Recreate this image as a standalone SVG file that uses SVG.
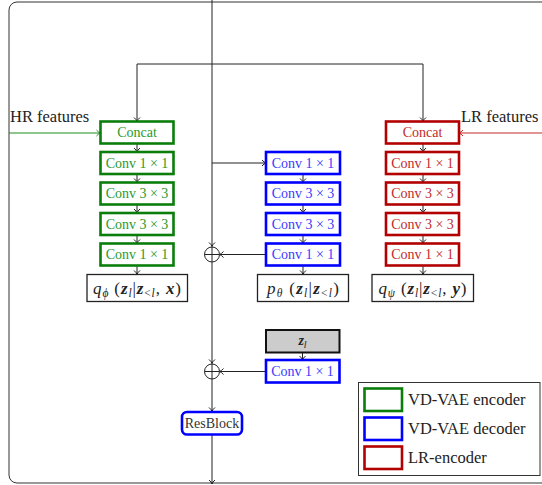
<svg xmlns="http://www.w3.org/2000/svg" width="542" height="485" viewBox="0 0 542 485" font-family="'Liberation Serif', 'DejaVu Serif', serif">
<defs>
<style>
text{font-family:"Liberation Serif","DejaVu Serif",serif;}
.lbl{font-size:14px;text-anchor:middle;dominant-baseline:central;}
.math{font-size:17px;text-anchor:middle;}
.enc rect{fill:#fff;stroke:#0a7d0a;stroke-width:2.6;}
.enc text{fill:#2a9a2a;}
.dec rect{fill:#fff;stroke:#0000ff;stroke-width:2.6;}
.dec text{fill:#3a3aff;}
.lr rect{fill:#fff;stroke:#b30000;stroke-width:2.6;}
.lr text{fill:#c22a2a;}
.dist rect{fill:#fff;stroke:#222;stroke-width:1.3;}
.dist text{fill:#222;}
.con{fill:none;stroke:#222;stroke-width:1;}
.b{font-weight:bold;font-style:italic;}
.i{font-style:italic;}
</style>
<marker id="arr" markerUnits="userSpaceOnUse" markerWidth="8" markerHeight="8" refX="6" refY="4" orient="auto">
<path d="M2,1 Q4,3.4 6,4 Q4,4.6 2,7" fill="none" stroke="#222" stroke-width="1"/>
</marker>
<marker id="arrG" markerUnits="userSpaceOnUse" markerWidth="8" markerHeight="8" refX="6" refY="4" orient="auto">
<path d="M2,1 Q4,3.4 6,4 Q4,4.6 2,7" fill="none" stroke="#1f8f1f" stroke-width="1"/>
</marker>
<marker id="arrR" markerUnits="userSpaceOnUse" markerWidth="8" markerHeight="8" refX="6" refY="4" orient="auto">
<path d="M2,1 Q4,3.4 6,4 Q4,4.6 2,7" fill="none" stroke="#c22a2a" stroke-width="1"/>
</marker>
</defs>
<rect width="542" height="485" fill="#fff"/>
<rect x="9" y="2" width="548" height="481" rx="8" fill="none" stroke="#333" stroke-width="1"/>

<g id="connectors">
<path class="con" d="M212,0 V246.5" marker-end="url(#arr)"/>
<path class="con" d="M212,262 V363.5" marker-end="url(#arr)"/>
<path class="con" d="M212,379 V411.5" marker-end="url(#arr)"/>
<path class="con" d="M212,434.5 V484" marker-end="url(#arr)"/>
<path class="con" d="M212,64 H137 V121.5" marker-end="url(#arr)"/>
<path class="con" d="M212,64 H423 V121.5" marker-end="url(#arr)"/>
<path class="con" d="M212,163 H266" marker-end="url(#arr)"/>
<path class="con" d="M266,254.5 H219.5" marker-end="url(#arr)"/>
<path class="con" d="M266,371.5 H219.5" marker-end="url(#arr)"/>
<path d="M9,133 H100.5" fill="none" stroke="#1f8f1f" stroke-width="1.2" marker-end="url(#arrG)"/>
<path d="M542,133 H459" fill="none" stroke="#c22a2a" stroke-width="1.2" marker-end="url(#arrR)"/>
<path class="con" d="M137,143.5 V152" marker-end="url(#arr)"/>
<path class="con" d="M137,174 V182.5" marker-end="url(#arr)"/>
<path class="con" d="M137,204.5 V213" marker-end="url(#arr)"/>
<path class="con" d="M137,235 V243.5" marker-end="url(#arr)"/>
<path class="con" d="M137,265.5 V274.5" marker-end="url(#arr)"/>
<path class="con" d="M303,174 V182.5" marker-end="url(#arr)"/>
<path class="con" d="M303,204.5 V213" marker-end="url(#arr)"/>
<path class="con" d="M303,235 V243.5" marker-end="url(#arr)"/>
<path class="con" d="M303,265.5 V274.5" marker-end="url(#arr)"/>
<path class="con" d="M423,143.5 V152" marker-end="url(#arr)"/>
<path class="con" d="M423,174 V182.5" marker-end="url(#arr)"/>
<path class="con" d="M423,204.5 V213" marker-end="url(#arr)"/>
<path class="con" d="M423,235 V243.5" marker-end="url(#arr)"/>
<path class="con" d="M423,265.5 V274.5" marker-end="url(#arr)"/>
<path class="con" d="M302.5,352.5 V360" marker-end="url(#arr)"/>
</g>

<g id="sum1" class="con">
<circle cx="212" cy="254.5" r="7.5" fill="#fff" stroke="#222"/>
<path d="M204.5,254.5 H219.5 M212,247 V262" stroke="#222"/>
</g>
<g id="sum2" class="con">
<circle cx="212" cy="371.5" r="7.5" fill="#fff" stroke="#222"/>
<path d="M204.5,371.5 H219.5 M212,364 V379" stroke="#222"/>
</g>

<text x="10" y="122" font-size="16.5" fill="#222">HR features</text>
<text x="461" y="122" font-size="16.5" fill="#222">LR features</text>

<g id="enc-concat" class="enc"><rect x="100.5" y="121.5" width="73" height="22"/><text class="lbl" x="137" y="132.5">Concat</text></g>
<g id="enc-conv1a" class="enc"><rect x="100.5" y="152" width="73" height="22"/><text class="lbl" x="137" y="163">Conv 1 × 1</text></g>
<g id="enc-conv3a" class="enc"><rect x="100.5" y="182.5" width="73" height="22"/><text class="lbl" x="137" y="193.5">Conv 3 × 3</text></g>
<g id="enc-conv3b" class="enc"><rect x="100.5" y="213" width="73" height="22"/><text class="lbl" x="137" y="224">Conv 3 × 3</text></g>
<g id="enc-conv1b" class="enc"><rect x="100.5" y="243.5" width="73" height="22"/><text class="lbl" x="137" y="254.5">Conv 1 × 1</text></g>

<g id="dec-conv1a" class="dec"><rect x="266" y="152" width="74" height="22"/><text class="lbl" x="303" y="163">Conv 1 × 1</text></g>
<g id="dec-conv3a" class="dec"><rect x="266" y="182.5" width="74" height="22"/><text class="lbl" x="303" y="193.5">Conv 3 × 3</text></g>
<g id="dec-conv3b" class="dec"><rect x="266" y="213" width="74" height="22"/><text class="lbl" x="303" y="224">Conv 3 × 3</text></g>
<g id="dec-conv1b" class="dec"><rect x="266" y="243.5" width="74" height="22"/><text class="lbl" x="303" y="254.5">Conv 1 × 1</text></g>

<g id="lr-concat" class="lr"><rect x="386" y="121.5" width="73" height="22"/><text class="lbl" x="422.5" y="132.5">Concat</text></g>
<g id="lr-conv1a" class="lr"><rect x="386" y="152" width="73" height="22"/><text class="lbl" x="422.5" y="163">Conv 1 × 1</text></g>
<g id="lr-conv3a" class="lr"><rect x="386" y="182.5" width="73" height="22"/><text class="lbl" x="422.5" y="193.5">Conv 3 × 3</text></g>
<g id="lr-conv3b" class="lr"><rect x="386" y="213" width="73" height="22"/><text class="lbl" x="422.5" y="224">Conv 3 × 3</text></g>
<g id="lr-conv1b" class="lr"><rect x="386" y="243.5" width="73" height="22"/><text class="lbl" x="422.5" y="254.5">Conv 1 × 1</text></g>

<g id="q-phi" class="dist"><rect x="87" y="274.5" width="100.5" height="27"/>
<text class="math" x="137" y="293.5" textLength="88" lengthAdjust="spacing"><tspan class="i">q</tspan><tspan font-size="11.5" dy="3" class="i">ϕ</tspan><tspan dy="-3"> (</tspan><tspan class="b">z</tspan><tspan font-size="11.5" dy="3" class="i">l</tspan><tspan dy="-3">|</tspan><tspan class="b">z</tspan><tspan font-size="11.5" dy="3">&lt;<tspan class="i">l</tspan></tspan><tspan dy="-3">, </tspan><tspan class="b">x</tspan>)</text></g>
<g id="p-theta" class="dist"><rect x="257.5" y="274.5" width="91" height="27"/>
<text class="math" x="303" y="293.5" textLength="72" lengthAdjust="spacing"><tspan class="i">p</tspan><tspan font-size="11.5" dy="3" class="i">θ</tspan><tspan dy="-3"> (</tspan><tspan class="b">z</tspan><tspan font-size="11.5" dy="3" class="i">l</tspan><tspan dy="-3">|</tspan><tspan class="b">z</tspan><tspan font-size="11.5" dy="3">&lt;<tspan class="i">l</tspan></tspan><tspan dy="-3">)</tspan></text></g>
<g id="q-psi" class="dist"><rect x="372" y="274.5" width="101.5" height="27"/>
<text class="math" x="422.5" y="293.5" textLength="88" lengthAdjust="spacing"><tspan class="i">q</tspan><tspan font-size="11.5" dy="3" class="i">ψ</tspan><tspan dy="-3"> (</tspan><tspan class="b">z</tspan><tspan font-size="11.5" dy="3" class="i">l</tspan><tspan dy="-3">|</tspan><tspan class="b">z</tspan><tspan font-size="11.5" dy="3">&lt;<tspan class="i">l</tspan></tspan><tspan dy="-3">, </tspan><tspan class="b">y</tspan>)</text></g>

<g id="z-l"><rect x="266" y="330" width="73.5" height="22.5" fill="#cccccc" stroke="#111" stroke-width="2"/>
<text x="302.5" y="345" font-size="14" text-anchor="middle" fill="#222"><tspan class="b">z</tspan><tspan font-size="10" dy="2.5" class="i">l</tspan></text></g>
<g id="dec-conv1c" class="dec"><rect x="266" y="360" width="73.5" height="22.5"/><text class="lbl" x="302.5" y="371.5">Conv 1 × 1</text></g>

<g id="resblock"><rect x="182" y="412" width="60" height="22.5" rx="5" fill="#fff" stroke="#0000ff" stroke-width="2.6"/>
<text class="lbl" x="212" y="423.5" fill="#333">ResBlock</text></g>

<g id="legend">
<rect x="358.5" y="382.5" width="181.5" height="93" fill="#fff" stroke="#333" stroke-width="1"/>
<rect x="364.5" y="388.5" width="37.5" height="22.5" fill="#fff" stroke="#0a7d0a" stroke-width="2.6"/>
<rect x="364.5" y="417.5" width="37.5" height="22.5" fill="#fff" stroke="#0000ff" stroke-width="2.6"/>
<rect x="364.5" y="446.5" width="37.5" height="22.5" fill="#fff" stroke="#b30000" stroke-width="2.6"/>
<text x="408" y="405" font-size="16.5" fill="#222">VD-VAE encoder</text>
<text x="408" y="434" font-size="16.5" fill="#222">VD-VAE decoder</text>
<text x="408" y="463" font-size="16.5" fill="#222">LR-encoder</text>
</g>
</svg>
